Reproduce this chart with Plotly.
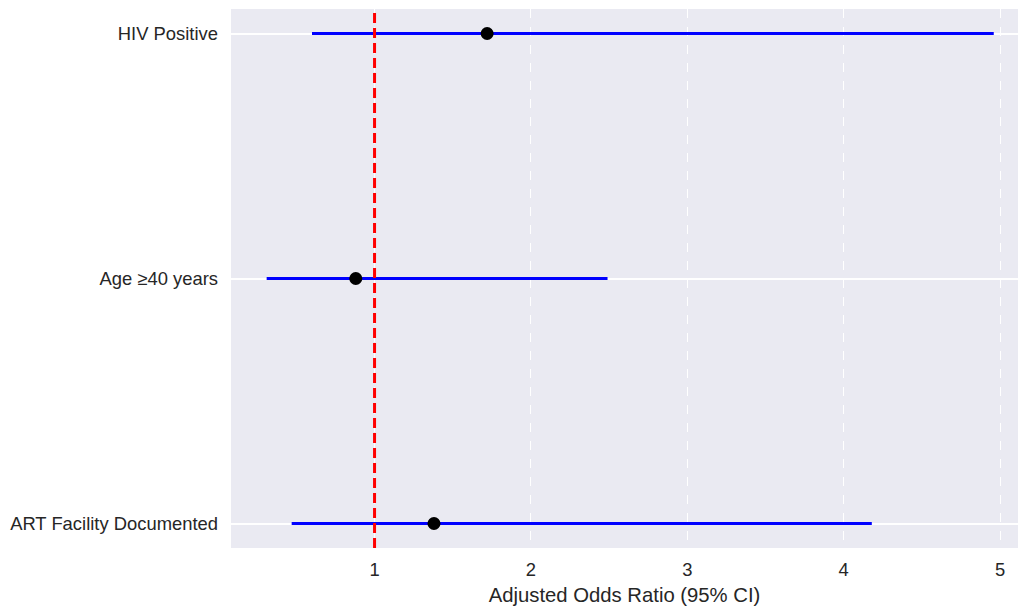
import plotly.graph_objects as go

# Adjusted odds ratios with 95% confidence intervals
factors = ["ART Facility Documented", "Age ≥40 years", "HIV Positive"]
aor = [1.38, 0.88, 1.72]
ci_low = [0.47, 0.31, 0.60]
ci_high = [4.18, 2.49, 4.96]

FONT = "Liberation Sans, Arial, sans-serif"
TEXT = "#262626"

fig = go.Figure()

# Confidence interval segments
for name, lo, hi in zip(factors, ci_low, ci_high):
    fig.add_trace(go.Scatter(
        x=[lo, hi], y=[name, name], mode="lines",
        line=dict(color="#0000ff", width=3),
        showlegend=False, hoverinfo="skip",
    ))

# Point estimates
fig.add_trace(go.Scatter(
    x=aor, y=factors, mode="markers",
    marker=dict(color="black", size=13),
    showlegend=False,
))

# Reference line at OR = 1
fig.add_shape(
    type="line", x0=1, x1=1, y0=0, y1=1, yref="paper", xref="x",
    line=dict(color="#ff0000", width=3, dash="10px,5px"),
)

fig.update_layout(
    width=1018, height=608,
    margin=dict(l=231, r=0, t=9, b=60),
    paper_bgcolor="white",
    plot_bgcolor="#eaeaf2",
    font=dict(family=FONT, size=18.4, color=TEXT),
    xaxis=dict(
        range=[0.082, 5.115],
        tickvals=[1, 2, 3, 4, 5],
        showgrid=True, gridcolor="white", gridwidth=1, griddash="dash",
        zeroline=False, showline=False, ticks="",
        ticklabelstandoff=9,
        title=dict(text="Adjusted Odds Ratio (95% CI)", font=dict(size=20.3, color=TEXT), standoff=8),
    ),
    yaxis=dict(
        type="category",
        categoryorder="array", categoryarray=factors,
        range=[-0.1, 2.1],
        showgrid=True, gridcolor="white", gridwidth=1.5,
        zeroline=False, showline=False, ticks="",
        ticklabelstandoff=12,
    ),
)

fig.write_html("out.html")
